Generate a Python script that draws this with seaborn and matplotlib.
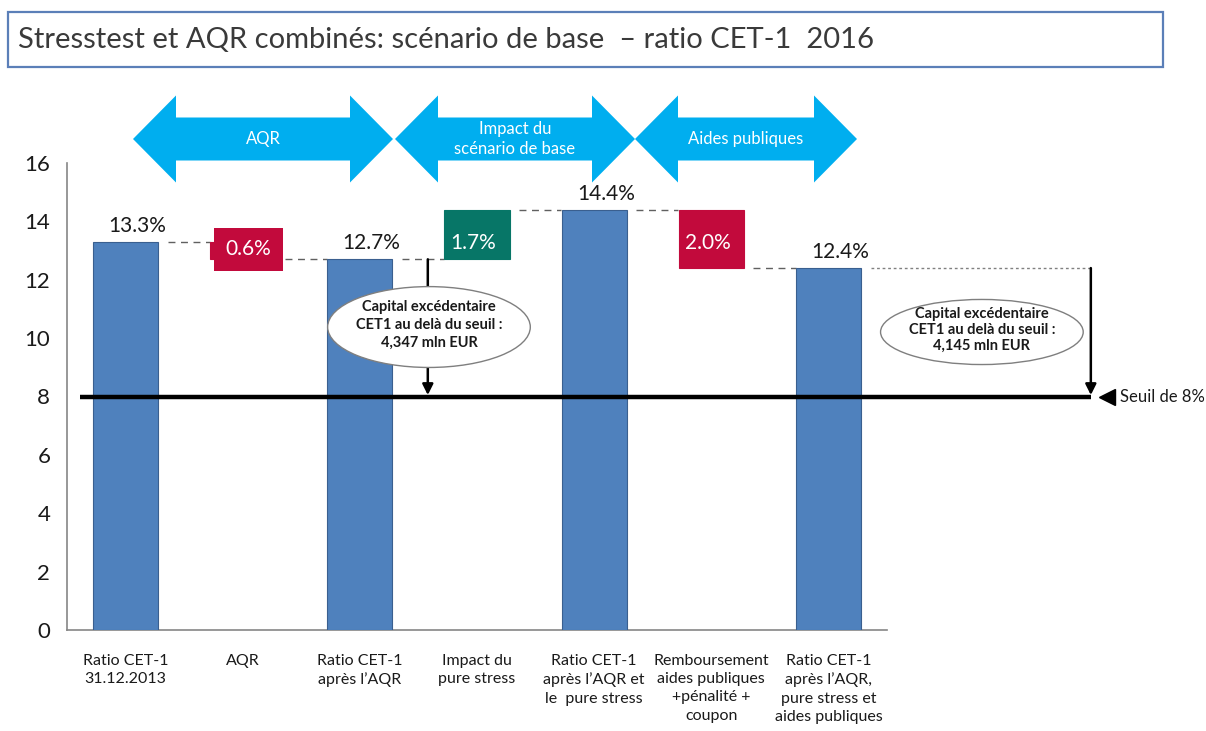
import pandas as pd
import matplotlib.pyplot as plt
import seaborn as sns
from matplotlib.patches import Ellipse, Polygon, Rectangle

# données
etapes = ["Ratio CET-1\n31.12.2013", "AQR", "Ratio CET-1\naprès l’AQR",
          "Impact du\npure stress", "Ratio CET-1\naprès l’AQR et\nle  pure stress",
          "Remboursement\naides publiques\n+pénalité +\ncoupon",
          "Ratio CET-1\naprès l’AQR,\npure stress et\naides publiques"]
ratios = [13.3, 12.7, 14.4, 12.4]          # ratios CET-1 (barres pleines)
variations = [-0.6, 1.7, -2.0]             # AQR, stress, aides publiques
seuil = 8
excedents = ["4,347 mln EUR", "4,145 mln EUR"]
phases = ["AQR", "Impact du\nscénario de base", "Aides publiques"]
titre = "Stresstest et AQR combinés: scénario de base  – ratio CET-1  2016"

# cascade
hauteurs, bases, types, niveaux = [], [], [], []
for i, r in enumerate(ratios):
    hauteurs.append(r); bases.append(0); types.append("total"); niveaux.append(r)
    if i < len(variations):
        v = variations[i]
        hauteurs.append(abs(v)); bases.append(min(r, r + v))
        types.append("neg" if v < 0 else "pos"); niveaux.append(r + v)
df = pd.DataFrame({"etape": etapes, "hauteur": hauteurs, "base": bases, "type": types})

couleurs = {"total": "#4F81BD", "neg": "#C20A3C", "pos": "#077667"}
W, H = 1206, 731

sns.set_style("white")
plt.rcParams["font.family"] = ["Lato", "DejaVu Sans"]

fig = plt.figure(figsize=(W / 100, H / 100), dpi=100)
ax = fig.add_axes([67 / W, 1 - 630 / H, 820 / W, 467 / H])

largeur = 0.555
sns.barplot(data=df, x="etape", y="hauteur", bottom=df["base"].values, color=couleurs["total"],
            width=largeur, errorbar=None, saturation=1, ax=ax, zorder=3)
for p, t in zip(ax.patches, df["type"]):
    p.set_facecolor(couleurs[t])
    p.set_edgecolor("#3A5F8F" if t == "total" else couleurs[t])
    p.set_linewidth(0.8)

ax.set_xlim(-0.5, 6.5)
ax.set_ylim(0, 16)
ax.set_yticks(range(0, 17, 2))
ax.set_xlabel("")
ax.set_ylabel("")
ax.tick_params(axis="y", length=5, width=1, color="#868686", labelsize=16, pad=7, labelcolor="#1a1a1a")
ax.tick_params(axis="x", length=0, labelsize=11.5, pad=17, labelcolor="#1a1a1a")
for lab in ax.get_xticklabels():
    lab.set_linespacing(1.4)
sns.despine(ax=ax)
for s in ["left", "bottom"]:
    ax.spines[s].set_color("#868686")
    ax.spines[s].set_linewidth(1.2)

# étiquettes des valeurs
k = 0
for i, (h, b, t) in enumerate(zip(hauteurs, bases, types)):
    if t == "total":
        ax.text(i + 0.1, h + 0.2, f"{h:.1f}%", ha="center", va="bottom", fontsize=15, color="#1a1a1a", zorder=6)
    else:
        if k == 0:
            ax.text(i + 0.05, 13.05, f"{h:.1f}%", ha="center", va="center", fontsize=15, color="white", zorder=6,
                    bbox=dict(boxstyle="square,pad=0.55", facecolor=couleurs[t], edgecolor="none"))
        else:
            ax.text(i - 0.03, 13.25, f"{h:.1f}%", ha="center", va="center", fontsize=15, color="white", zorder=6)
        k += 1

# connecteurs pointillés
for i in range(len(niveaux) - 1):
    ax.plot([i + 0.36, i + 1 - 0.28], [niveaux[i], niveaux[i]], ls=(0, (5, 4)), lw=1,
            color="#606060", zorder=2)
x_fleche2 = 8.24
ax.plot([6.36, x_fleche2], [niveaux[-1], niveaux[-1]], ls=(0, (2, 2)), lw=1, color="#808080",
        zorder=2, clip_on=False)

# seuil
ax.plot([-0.39, x_fleche2], [seuil, seuil], lw=3.2, color="black", zorder=7, clip_on=False,
        solid_capstyle="butt")
ax.plot([8.38], [seuil], marker="<", markersize=12, color="black", clip_on=False, zorder=7)
ax.text(8.49, seuil, "Seuil de 8%", ha="left", va="center", fontsize=12, color="#1a1a1a")

# flèches excédent + ellipses
x_fleche1 = 2.58
for xf, niv in [(x_fleche1, niveaux[2]), (x_fleche2, niveaux[-1])]:
    ax.annotate("", xy=(xf, seuil + 0.05), xytext=(xf, niv), annotation_clip=False,
                arrowprops=dict(arrowstyle="-|>", color="black", lw=1.8, mutation_scale=16,
                                shrinkA=0, shrinkB=0), zorder=5)
for (xc, yc, h, ytxt, ls), txt in zip([(2.59, 10.38, 2.77, 10.45, 1.35), (7.31, 10.21, 2.23, 10.28, 1.2)], excedents):
    ax.add_patch(Ellipse((xc, yc), 1.73, h, facecolor="white", edgecolor="#7F7F7F", lw=1,
                         zorder=6, clip_on=False))
    ax.text(xc, ytxt, "Capital excédentaire\nCET1 au delà du seuil :\n" + txt, ha="center", va="center",
            fontsize=10.5, fontweight="bold", color="#1a1a1a", linespacing=ls, zorder=7)

# flèches des phases
def fleche_double(x0, x1, yc=139, tete=43, demi_tete=43.5, demi_corps=21.5):
    pts = [(x0, yc), (x0 + tete, yc - demi_tete), (x0 + tete, yc - demi_corps),
           (x1 - tete, yc - demi_corps), (x1 - tete, yc - demi_tete), (x1, yc),
           (x1 - tete, yc + demi_tete), (x1 - tete, yc + demi_corps),
           (x0 + tete, yc + demi_corps), (x0 + tete, yc + demi_tete)]
    return Polygon([(x / W, 1 - y / H) for x, y in pts], closed=True, transform=fig.transFigure,
                   facecolor="#00AEEF", edgecolor="none")

for (x0, x1), nom in zip([(133, 393), (395, 635), (635, 857)], phases):
    fig.patches.append(fleche_double(x0, x1))
    fig.text((x0 + x1) / 2 / W, 1 - 139 / H, nom, ha="center", va="center", fontsize=12,
             color="white", linespacing=1.25)

# titre
fig.patches.append(Rectangle((8 / W, 1 - 67 / H), 1155 / W, 55 / H, transform=fig.transFigure,
                             facecolor="white", edgecolor="#5B7FB8", lw=1.6))
fig.text(18 / W, 1 - 40 / H, titre, ha="left", va="center", fontsize=21, color="#3A3A3A")

fig.savefig("out.png", dpi=100)
